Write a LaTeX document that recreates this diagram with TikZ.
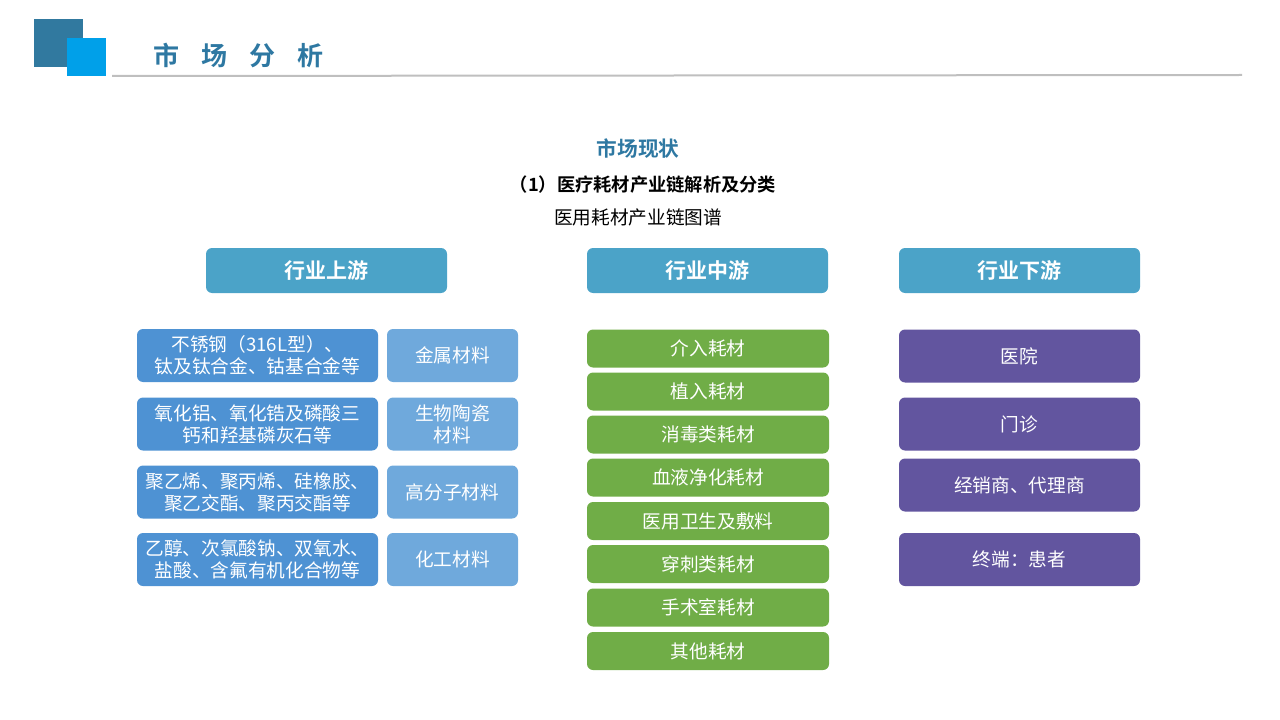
\documentclass[tikz,border=0pt]{standalone}
\usepackage{fontspec}
\setmainfont{Noto Sans CJK SC}
\newfontfamily\cjkbold{Noto Sans CJK SC Bold}
\definecolor{sqdark}{HTML}{31799F}
\definecolor{sqlight}{HTML}{00A0E9}
\definecolor{titleblue}{HTML}{2E78A2}
\definecolor{headblue}{HTML}{4BA3C8}
\definecolor{updark}{HTML}{4E92D3}
\definecolor{uplight}{HTML}{6FA9DC}
\definecolor{midgreen}{HTML}{70AD47}
\definecolor{downpurple}{HTML}{62559F}
\definecolor{rulegray}{HTML}{BFBFBF}
\tikzset{
  basebox/.style={rounded corners=4.5pt, inner sep=0pt, align=center, text=white, font=\fontsize{14}{16.5}\selectfont},
  headbox/.style={basebox, fill=headblue, minimum width=180.75pt, minimum height=33.75pt, font=\cjkbold\fontsize{15.75}{18}\selectfont},
  matbox/.style={basebox, fill=updark, minimum width=180.75pt, minimum height=39.75pt},
  catbox/.style={basebox, fill=uplight, minimum width=98.25pt, minimum height=39.75pt},
  midbox/.style={basebox, fill=midgreen, minimum width=181.5pt, minimum height=28.5pt},
  downbox/.style={basebox, fill=downpurple, minimum width=180.75pt, minimum height=39.75pt},
  textnode/.style={inner sep=0pt, anchor=center}
}
\begin{document}
\begin{tikzpicture}[x=0.75pt,y=-0.75pt]
\useasboundingbox (0,0) rectangle (1280,720);
% header decoration
\fill[sqdark] (34,19) rectangle (83,67);
\fill[sqlight] (67,38) rectangle (106,76);
\node[textnode, anchor=west, text=titleblue, font=\cjkbold\fontsize{19.5}{22}\selectfont] (title) at (153,56) {市\hspace{16.5pt}场\hspace{16.5pt}分\hspace{16.5pt}析};
\coordinate (ruleL) at (112,76);
\coordinate (ruleR) at (1242,75);
\draw[rulegray, line width=1.5pt] (ruleL) -- (ruleR);
% headings
\node[textnode, text=titleblue, font=\cjkbold\fontsize{15.5}{18}\selectfont] (sub1) at (638,149) {市场现状};
\node[textnode, font=\cjkbold\fontsize{13.7}{16}\selectfont] (sub2) at (643,185) {（1）医疗耗材产业链解析及分类};
\node[textnode, font=\fontsize{14}{16}\selectfont] (sub3) at (638,217) {医用耗材产业链图谱};
% column headers
\node[headbox] (hup) at (326.5,270.5) {行业上游};
\node[headbox] (hmid) at (707.5,270.5) {行业中游};
\node[headbox] (hdown) at (1019.5,270.5) {行业下游};
% upstream
\node[matbox] (m1) at (257.5,355.5) {不锈钢（316L型）、\\钛及钛合金、钴基合金等};
\node[catbox] (c1) at (452.5,355.5) {金属材料};
\node[matbox] (m2) at (257.5,424) {氧化铝、氧化锆及磷酸三\\钙和羟基磷灰石等};
\node[catbox] (c2) at (452.5,424) {生物陶瓷\\材料};
\node[matbox] (m3) at (257.5,492) {聚乙烯、聚丙烯、硅橡胶、\\聚乙交酯、聚丙交酯等};
\node[catbox] (c3) at (452.5,492) {高分子材料};
\node[matbox] (m4) at (257.5,559.5) {乙醇、次氯酸钠、双氧水、\\盐酸、含氟有机化合物等};
\node[catbox] (c4) at (452.5,559.5) {化工材料};
% midstream
\node[midbox] (g1) at (708,348.5) {介入耗材};
\node[midbox] (g2) at (708,391.5) {植入耗材};
\node[midbox] (g3) at (708,434.5) {消毒类耗材};
\node[midbox] (g4) at (708,477.5) {血液净化耗材};
\node[midbox] (g5) at (708,521) {医用卫生及敷料};
\node[midbox] (g6) at (708,564) {穿刺类耗材};
\node[midbox] (g7) at (708,607.5) {手术室耗材};
\node[midbox] (g8) at (708,651) {其他耗材};
% downstream
\node[downbox] (d1) at (1019.5,356) {医院};
\node[downbox] (d2) at (1019.5,424) {门诊};
\node[downbox] (d3) at (1019.5,485) {经销商、代理商};
\node[downbox] (d4) at (1019.5,559.5) {终端：患者};
\end{tikzpicture}
\end{document}
